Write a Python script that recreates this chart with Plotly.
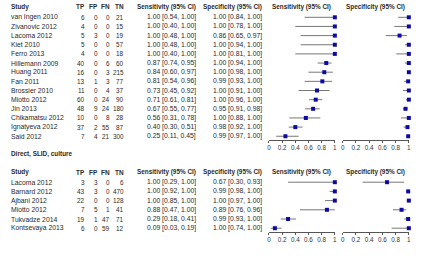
import plotly.graph_objects as go

W, H = 425, 278

# ---------------- Data: top section ----------------
studies1 = ["van Ingen 2010", "Zivanovic 2012", "Lacoma 2012", "Kiet 2010", "Ferro 2013",
            "Hillemann 2009", "Huang 2011", "Fan 2011", "Brossier 2010", "Miotto 2012",
            "Jin 2013", "Chikamatsu 2012", "Ignatyeva 2012", "Said 2012"]
tp1 = [6, 4, 5, 5, 4, 40, 16, 13, 11, 60, 48, 10, 37, 7]
fp1 = [0, 0, 3, 0, 0, 0, 0, 1, 0, 0, 9, 0, 2, 4]
fn1 = [0, 0, 0, 0, 0, 6, 3, 3, 4, 24, 24, 8, 55, 21]
tn1 = [21, 15, 19, 57, 18, 60, 215, 77, 37, 90, 180, 28, 87, 300]
sens1 = [1.00, 1.00, 1.00, 1.00, 1.00, 0.87, 0.84, 0.81, 0.73, 0.71, 0.67, 0.56, 0.40, 0.25]
sens1_lo = [0.54, 0.40, 0.48, 0.48, 0.40, 0.74, 0.60, 0.54, 0.45, 0.61, 0.55, 0.31, 0.30, 0.11]
sens1_hi = [1.00, 1.00, 1.00, 1.00, 1.00, 0.95, 0.97, 0.96, 0.92, 0.81, 0.77, 0.78, 0.51, 0.45]
spec1 = [1.00, 1.00, 0.86, 1.00, 1.00, 1.00, 1.00, 0.99, 1.00, 1.00, 0.95, 1.00, 0.98, 0.99]
spec1_lo = [0.84, 0.78, 0.65, 0.94, 0.81, 0.94, 0.98, 0.93, 0.91, 0.96, 0.91, 0.88, 0.92, 0.97]
spec1_hi = [1.00, 1.00, 0.97, 1.00, 1.00, 1.00, 1.00, 1.00, 1.00, 1.00, 0.98, 1.00, 1.00, 1.00]

# ---------------- Data: bottom section ----------------
section2_title = "Direct, SLID, culture"
studies2 = ["Lacoma 2012", "Barnard 2012", "Ajbani 2012", "Miotto 2012", "Tukvadze 2014", "Kontsevaya 2013"]
tp2 = [3, 43, 22, 7, 19, 6]
fp2 = [3, 3, 0, 5, 1, 0]
fn2 = [0, 0, 0, 1, 47, 59]
tn2 = [6, 470, 128, 41, 71, 12]
sens2 = [1.00, 1.00, 1.00, 0.88, 0.29, 0.09]
sens2_lo = [0.29, 0.92, 0.85, 0.47, 0.18, 0.03]
sens2_hi = [1.00, 1.00, 1.00, 1.00, 0.41, 0.19]
spec2 = [0.67, 0.99, 1.00, 0.89, 0.99, 1.00]
spec2_lo = [0.30, 0.98, 0.97, 0.76, 0.93, 0.74]
spec2_hi = [0.93, 1.00, 1.00, 0.96, 1.00, 1.00]

tick_vals = [0, 0.2, 0.4, 0.6, 0.8, 1]
tick_text = ["0", "0.2", "0.4", "0.6", "0.8", "1"]
col_headers = ["Study", "TP", "FP", "FN", "TN", "Sensitivity (95% CI)", "Specificity (95% CI)"]

# ---------------- Layout constants (pixels) ----------------
FONT = "Liberation Sans, Arial, sans-serif"
TXT = "#2a2a2a"
MARK = "#0b0ba3"
LINE = "#777777"
FS = 6.8
FSN = 6.4
FSH = 6.4

x_study = 8
x_tp, x_fp, x_fn, x_tn = 85.0, 97.8, 110.3, 124.3
x_sens_txt, x_spec_txt = 197, 263.5
sens_dom = (269.5, 336.0)
spec_dom = (344.0, 410.7)

# top section rows: pixel = 17.3 + 9.15*r ; axis line at 139.7
top_r0, top_step, top_axis, top_top = 17.3, 9.15, 139.7, 1
# bottom section rows: pixel = 182.2 + 9.2*r ; axis line at 231.7
bot_r0, bot_step, bot_axis, bot_top = 182.2, 9.2, 231.7, 148


def pxr(p, r0, step):
    return (p - r0) / step


def py(p):
    # pixel (from top) -> paper fraction
    return 1 - p / H


fig = go.Figure()


def ci_trace(lo, hi, xa, ya):
    xs, ys = [], []
    for i, (a, b) in enumerate(zip(lo, hi)):
        xs += [a, b, None]
        ys += [i, i, None]
    return go.Scatter(x=xs, y=ys, mode="lines", line=dict(color=LINE, width=1),
                      xaxis=xa, yaxis=ya, hoverinfo="skip", showlegend=False, cliponaxis=False)


def pt_trace(v, xa, ya):
    return go.Scatter(x=v, y=list(range(len(v))), mode="markers",
                      marker=dict(symbol="square", size=4, color=MARK, line=dict(width=0)),
                      xaxis=xa, yaxis=ya, showlegend=False, cliponaxis=False)


fig.add_trace(ci_trace(sens1_lo, sens1_hi, "x", "y"))
fig.add_trace(pt_trace(sens1, "x", "y"))
fig.add_trace(ci_trace(spec1_lo, spec1_hi, "x2", "y"))
fig.add_trace(pt_trace(spec1, "x2", "y"))
fig.add_trace(ci_trace(sens2_lo, sens2_hi, "x3", "y2"))
fig.add_trace(pt_trace(sens2, "x3", "y2"))
fig.add_trace(ci_trace(spec2_lo, spec2_hi, "x4", "y2"))
fig.add_trace(pt_trace(spec2, "x4", "y2"))

annots = []


def add_txt(text, x, y, yref, anchor, bold=False, size=FS, xref="paper"):
    annots.append(dict(text=f"<b>{text}</b>" if bold else text,
                       x=x / W if xref == "paper" else x, xref=xref,
                       y=y, yref=yref, xanchor=anchor, yanchor="middle", showarrow=False,
                       font=dict(family=FONT, size=size, color=TXT), borderpad=0))


def headers(hdr_px, xa_s, xa_p):
    hy = py(hdr_px)
    add_txt(col_headers[0], x_study, hy, "paper", "left", True, FSH)
    for h, xx in zip(col_headers[1:5], [x_tp, x_fp, x_fn, x_tn]):
        add_txt(h, xx, hy, "paper", "right", True, FSH)
    add_txt(col_headers[5], x_sens_txt, hy, "paper", "right", True, FSH)
    add_txt(col_headers[6], x_spec_txt, hy, "paper", "right", True, FSH)
    add_txt(col_headers[5], 0.5, hy, "paper", "center", True, FSH, xref=f"{xa_s} domain")
    add_txt(col_headers[6], 0.5, hy, "paper", "center", True, FSH, xref=f"{xa_p} domain")


def rows(studies, tp, fp, fn, tn, sens, slo, shi, spec, plo, phi, yref):
    for i, s in enumerate(studies):
        add_txt(s, x_study, i, yref, "left")
        add_txt(str(tp[i]), x_tp, i, yref, "right", size=FSN)
        add_txt(str(fp[i]), x_fp, i, yref, "right", size=FSN)
        add_txt(str(fn[i]), x_fn, i, yref, "right", size=FSN)
        add_txt(str(tn[i]), x_tn, i, yref, "right", size=FSN)
        add_txt(f"{sens[i]:.2f} [{slo[i]:.2f}, {shi[i]:.2f}]", x_sens_txt, i, yref, "right")
        add_txt(f"{spec[i]:.2f} [{plo[i]:.2f}, {phi[i]:.2f}]", x_spec_txt, i, yref, "right")


headers(6.8, "x", "x2")
rows(studies1, tp1, fp1, fn1, tn1, sens1, sens1_lo, sens1_hi, spec1, spec1_lo, spec1_hi, "y")
add_txt(section2_title, x_study, py(154.3), "paper", "left", True, FSH)
headers(172.0, "x3", "x4")
rows(studies2, tp2, fp2, fn2, tn2, sens2, sens2_lo, sens2_hi, spec2, spec2_lo, spec2_hi, "y2")


def xaxis(dom, anchor):
    return dict(domain=[dom[0] / W, dom[1] / W], range=[0, 1], anchor=anchor,
                showline=True, linecolor="#555", linewidth=1, showgrid=False, zeroline=False,
                ticks="outside", ticklen=2, tickwidth=1, tickcolor="#555",
                tickvals=tick_vals, ticktext=tick_text,
                tickfont=dict(family=FONT, size=6.3, color="#333"), fixedrange=True)


def yaxis(r0, step, axis_px, top_px):
    return dict(domain=[py(axis_px), py(top_px)],
                range=[pxr(axis_px, r0, step), pxr(top_px, r0, step)],
                visible=False, showgrid=False, zeroline=False, fixedrange=True)


fig.update_layout(
    width=W, height=H,
    margin=dict(l=0, r=0, t=0, b=0),
    paper_bgcolor="white", plot_bgcolor="rgba(0,0,0,0)",
    showlegend=False,
    xaxis=xaxis(sens_dom, "y"),
    xaxis2=xaxis(spec_dom, "y"),
    xaxis3=xaxis(sens_dom, "y2"),
    xaxis4=xaxis(spec_dom, "y2"),
    yaxis=yaxis(top_r0, top_step, top_axis, top_top),
    yaxis2=yaxis(bot_r0, bot_step, bot_axis, bot_top),
    annotations=annots,
)

fig.write_html("out.html")
